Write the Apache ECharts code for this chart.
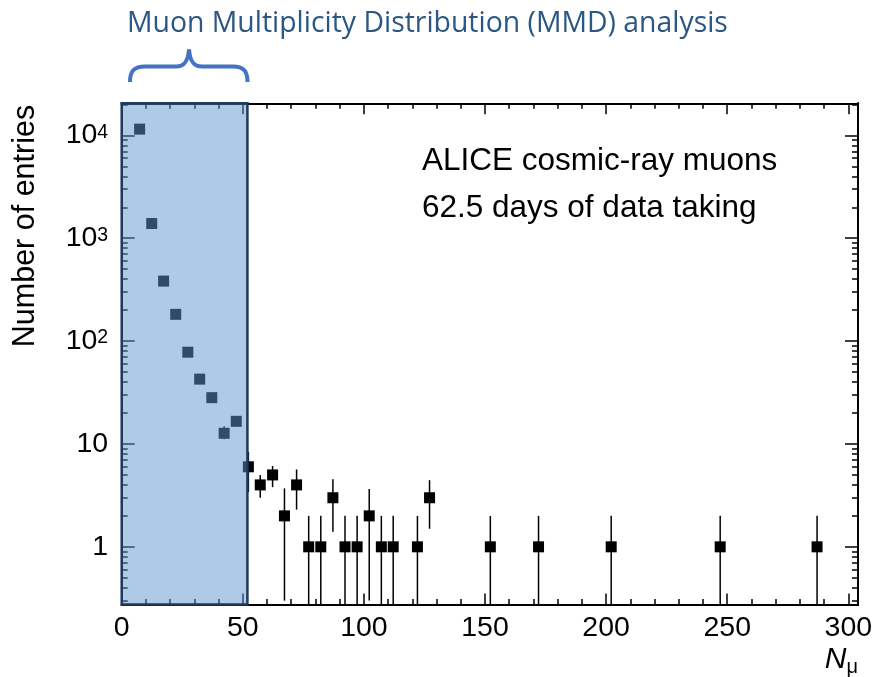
<!DOCTYPE html>
<html><head><meta charset="utf-8">
<script src="https://cdn.jsdelivr.net/npm/echarts@6/dist/echarts.min.js"></script>
<style>html,body{margin:0;padding:0;background:#fff}#c{width:876px;height:677px}</style>
</head><body><div id="c"></div>
<script>
// ---- data ----
const xValues   = [7.4, 12.4, 17.3, 22.3, 27.3, 32.2, 37.2, 42.3, 47.3, 52.3, 57.2, 62.3, 67.2, 72.2, 77.2, 82.2, 87.2, 92.2, 97.2, 102.2, 107.2, 112.1, 122.1, 127.1, 152.2, 172.1, 202.1, 247.1, 287.1];
const yValues   = [11500, 1390, 383, 182, 78, 42.7, 28.2, 12.7, 16.6, 6, 4, 5, 2, 4, 1, 1, 3, 1, 1, 2, 1, 1, 1, 3, 1, 1, 1, 1, 1];
const yErrLow   = [11500, 1390, 383, 182, 78, 42.7, 28.2, 11.1, 16.6, 3.4, 3.0, 3.8, 0.30, 2.3, 0, 0, 1.4, 0, 0, 0.30, 0, 0, 0, 1.5, 0, 0, 0, 0, 0];
const yErrHigh  = [11500, 1390, 383, 182, 78, 42.7, 28.2, 14.9, 16.6, 8.4, 5.0, 6.1, 3.7, 5.65, 2, 2, 4.55, 2, 2, 3.64, 2, 2, 2, 4.45, 2, 2, 2, 2, 2];
const xTickLabels = [0, 50, 100, 150, 200, 250, 300];
const xMinorTicks = [10,20,30,40,60,70,80,90,110,120,130,140,160,170,180,190,210,220,230,240,260,270,280,290];
const yTickLabels = [1, 10, 100, 1000, 10000];
const yMinorTicks = [0.3,0.4,0.5,0.6,0.7,0.8,0.9,2,3,4,5,6,7,8,9,20,30,40,50,60,70,80,90,200,300,400,500,600,700,800,900,2000,3000,4000,5000,6000,7000,8000,9000,20000];
const mmdRange = [0, 51.9];
const X_MIN = 0, X_MAX = 304, Y_MIN = 0.275, Y_MAX = 20500;

const FONT = 'Liberation Sans';
const chart = echarts.init(document.getElementById('c'), null, {renderer: 'canvas'});

function xAxisDef(pos, ticks, len, labels) {
  return {
    type: 'value', min: X_MIN, max: X_MAX, position: pos,
    axisLine: {show: true, onZero: false, lineStyle: {color: '#000', width: 2}},
    axisTick: {show: true, inside: true, length: len, customValues: ticks, lineStyle: {color: '#000', width: 1.5}},
    axisLabel: labels ? {show: true, customValues: xTickLabels, margin: 9, color: '#000', fontFamily: FONT, fontSize: 28.5} : {show: false},
    splitLine: {show: false}, minorTick: {show: false}
  };
}
function yAxisDef(pos, ticks, len, labels) {
  return {
    type: 'log', logBase: 10, min: Y_MIN, max: Y_MAX, position: pos,
    axisLine: {show: true, onZero: false, lineStyle: {color: '#000', width: 2}},
    axisTick: {show: true, inside: true, length: len, customValues: ticks, lineStyle: {color: '#000', width: 1.5}},
    axisLabel: labels ? {
      show: true, customValues: yTickLabels, margin: 13.5, color: '#000',
      formatter: function (v) {
        const e = Math.round(Math.log10(v));
        if (e === 0) return '{b|1}';
        if (e === 1) return '{b|10}';
        return '{b|10}{s|' + e + '}';
      },
      rich: {
        b: {fontFamily: FONT, fontSize: 28.5, lineHeight: 36, color: '#000'},
        s: {fontFamily: FONT, fontSize: 19.5, lineHeight: 28, padding: [5, 0, 0, 0], verticalAlign: 'top', color: '#000'}
      }
    } : {show: false},
    splitLine: {show: false}, minorTick: {show: false}
  };
}

const pts = xValues.map((x, i) => [x, yValues[i]]);
const errs = xValues.map((x, i) => [x, yErrLow[i], yErrHigh[i]]);

const braceStyle = {stroke: '#4472C4', lineWidth: 4, fill: 'none', lineCap: 'butt'};

chart.setOption({
  animation: false,
  backgroundColor: '#fff',
  grid: {left: 121.7, right: 18, top: 103.3, bottom: 72.5, containLabel: false, outerBoundsMode: 'none'},
  xAxis: [
    xAxisDef('bottom', xTickLabels, 11, true),
    xAxisDef('bottom', xMinorTicks, 5.5, false),
    xAxisDef('top', xTickLabels, 11, false),
    xAxisDef('top', xMinorTicks, 5.5, false)
  ],
  yAxis: [
    yAxisDef('left', yTickLabels, 13, true),
    yAxisDef('left', yMinorTicks, 6, false),
    yAxisDef('right', yTickLabels, 13, false),
    yAxisDef('right', yMinorTicks, 6, false)
  ],
  series: [
    {
      type: 'custom', name: 'errors', xAxisIndex: 0, yAxisIndex: 0, z: 2,
      data: errs, encode: {x: 0, y: [1, 2]},
      renderItem: function (params, api) {
        const x = api.value(0);
        const lo = Math.max(api.value(1), Y_MIN);
        const hi = api.value(2);
        if (hi <= lo) return null;
        const p1 = api.coord([x, lo]), p2 = api.coord([x, hi]);
        return {type: 'line', shape: {x1: p1[0], y1: p1[1], x2: p2[0], y2: p2[1]}, style: {stroke: '#000', lineWidth: 1.5}};
      }
    },
    {
      type: 'scatter', name: 'entries', xAxisIndex: 0, yAxisIndex: 0, z: 3,
      symbol: 'rect', symbolSize: 11, data: pts,
      itemStyle: {color: '#000', opacity: 1}
    },
    {
      type: 'custom', name: 'MMD', xAxisIndex: 0, yAxisIndex: 0, z: 10,
      data: [[mmdRange[0], mmdRange[1]]], encode: {x: [0, 1]},
      renderItem: function (params, api) {
        const a = api.coord([api.value(0), Y_MAX]);
        const b = api.coord([api.value(1), Y_MIN]);
        return {type: 'rect', shape: {x: a[0], y: a[1], width: b[0] - a[0], height: b[1] - a[1]},
          style: {fill: 'rgba(94,150,208,0.5)', stroke: '#1F3A5E', lineWidth: 2.5}};
      }
    }
  ],
  graphic: [
    {type: 'text', x: 127, y: 24, z: 100,
      style: {text: 'Muon Multiplicity Distribution (MMD) analysis', fill: '#2A5783', font: '28.4px "Open Sans"', verticalAlign: 'middle'}},
    {type: 'bezierCurve', z: 100, shape: {x1: 130, y1: 82, cpx1: 130, cpy1: 71, cpx2: 134, cpy2: 66.5, x2: 145, y2: 66.5}, style: braceStyle},
    {type: 'line', z: 100, shape: {x1: 145, y1: 66.5, x2: 176, y2: 66.5}, style: braceStyle},
    {type: 'bezierCurve', z: 100, shape: {x1: 176, y1: 66.5, cpx1: 184, cpy1: 66.5, cpx2: 188, cpy2: 62, x2: 189, y2: 49.5}, style: braceStyle},
    {type: 'bezierCurve', z: 100, shape: {x1: 189, y1: 49.5, cpx1: 190, cpy1: 62, cpx2: 194, cpy2: 66.5, x2: 202, y2: 66.5}, style: braceStyle},
    {type: 'line', z: 100, shape: {x1: 202, y1: 66.5, x2: 233, y2: 66.5}, style: braceStyle},
    {type: 'bezierCurve', z: 100, shape: {x1: 233, y1: 66.5, cpx1: 243.5, cpy1: 66.5, cpx2: 247.5, cpy2: 71, x2: 247.5, y2: 82}, style: braceStyle},
    {type: 'text', x: 422, y: 161, z: 100,
      style: {text: 'ALICE cosmic-ray muons', fill: '#000', font: '31.5px "Liberation Sans"', verticalAlign: 'middle'}},
    {type: 'text', x: 422, y: 208.5, z: 100,
      style: {text: '62.5 days of data taking', fill: '#000', font: '31.5px "Liberation Sans"', verticalAlign: 'middle'}},
    {type: 'text', x: 26, y: 226, rotation: Math.PI / 2, z: 100,
      style: {text: 'Number of entries', fill: '#000', font: '30.5px "Liberation Sans"', align: 'center', verticalAlign: 'middle'}},
    {type: 'text', x: 858, y: 660, z: 100,
      style: {text: '{n|N}{m|μ}', align: 'right', verticalAlign: 'middle',
        rich: {n: {fontFamily: FONT, fontStyle: 'italic', fontSize: 30, lineHeight: 34, fill: '#000', color: '#000'},
               m: {fontFamily: FONT, fontSize: 20, lineHeight: 34, verticalAlign: 'bottom', fill: '#000', color: '#000'}}}}
  ]
});
</script></body></html>
